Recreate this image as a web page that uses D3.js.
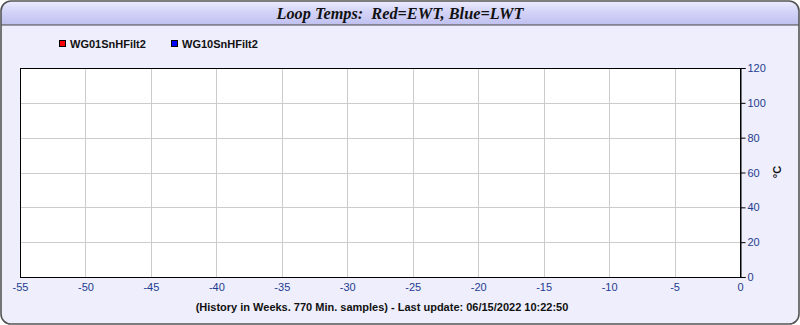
<!DOCTYPE html>
<html><head><meta charset="utf-8">
<script src="https://cdn.jsdelivr.net/npm/d3@7"></script>
<style>html,body{margin:0;padding:0;background:#fff;}svg{display:block;}</style>
</head><body>
<svg id="c" width="800" height="325"></svg>
<script>
const title = "Loop Temps:  Red=EWT, Blue=LWT";
const seriesNames = ["WG01SnHFilt2", "WG10SnHFilt2"];
const seriesColors = ["#ff0000", "#0000ff"];
const xTicks = [-55, -50, -45, -40, -35, -30, -25, -20, -15, -10, -5, 0];
const yTicks = [0, 20, 40, 60, 80, 100, 120];
const xDomain = [-55, 0];
const yDomain = [0, 120];
const yLabel = "°C";
const footer = "(History in Weeks. 770 Min. samples) - Last update: 06/15/2022 10:22:50";

const svg = d3.select("#c");
const defs = svg.append("defs");
const g = defs.append("linearGradient").attr("id","tb").attr("x1",0).attr("y1",0).attr("x2",0).attr("y2",1);
g.append("stop").attr("offset","0%").attr("stop-color","#f0f0ff");
g.append("stop").attr("offset","45%").attr("stop-color","#d4d4f8");
g.append("stop").attr("offset","100%").attr("stop-color","#c0c0f0");
defs.append("clipPath").attr("id","frame").append("rect")
  .attr("x",1).attr("y",1).attr("width",798).attr("height",323).attr("rx",10);

svg.append("rect").attr("x",1).attr("y",1).attr("width",798).attr("height",323).attr("rx",10)
  .attr("fill","#eeeefc");
const fg = svg.append("g").attr("clip-path","url(#frame)");
fg.append("rect").attr("x",0).attr("y",0).attr("width",800).attr("height",25).attr("fill","url(#tb)");
fg.append("line").attr("x1",0).attr("x2",800).attr("y1",25).attr("y2",25).attr("stroke","#444").attr("stroke-width",1.2);
svg.append("rect").attr("x",1).attr("y",1).attr("width",798).attr("height",323).attr("rx",10)
  .attr("fill","none").attr("stroke","#555").attr("stroke-width",1.6);

svg.append("text").attr("x",400).attr("y",19).attr("text-anchor","middle")
  .attr("font-family","'Liberation Serif','DejaVu Serif',serif").attr("font-size",16.3)
  .attr("font-weight","bold").attr("font-style","italic").attr("fill","#111")
  .attr("xml:space","preserve").style("white-space","pre").text(title);

// legend
const leg = svg.append("g");
seriesNames.forEach((n,i)=>{
  const x0 = 59 + i*112;
  leg.append("rect").attr("x",x0+0.5).attr("y",40.5).attr("width",6).attr("height",6)
    .attr("fill",seriesColors[i]).attr("stroke","#000").attr("stroke-width",1);
  leg.append("text").attr("x",x0+11).attr("y",48).attr("font-family","'Liberation Sans',Arial,sans-serif")
    .attr("font-size",11).attr("font-weight","bold").attr("fill","#111").text(n);
});

const L=20, R=740, T=68, B=277;
const x = d3.scaleLinear().domain(xDomain).range([L,R]);
const y = d3.scaleLinear().domain(yDomain).range([B,T]);

svg.append("rect").attr("x",L).attr("y",T).attr("width",R-L).attr("height",B-T).attr("fill","#fff");
const grid = svg.append("g").attr("stroke","#cccccc").attr("stroke-width",1);
xTicks.forEach(t=>{ grid.append("line").attr("x1",Math.round(x(t))+0.5).attr("x2",Math.round(x(t))+0.5).attr("y1",T).attr("y2",B); });
yTicks.forEach(t=>{ grid.append("line").attr("x1",L).attr("x2",R).attr("y1",Math.round(y(t))+0.5).attr("y2",Math.round(y(t))+0.5); });
svg.append("rect").attr("x",L+0.5).attr("y",T+0.5).attr("width",R-L).attr("height",B-T)
  .attr("fill","none").attr("stroke","#000").attr("stroke-width",1);

const tickColor = "#1e3c8f";
const xa = svg.append("g").attr("transform",`translate(0,${B+0.5})`)
  .call(d3.axisBottom(x).tickValues(xTicks).tickSize(0).tickPadding(6).tickFormat(d => String(d)));
xa.select(".domain").remove();
xa.selectAll("text").attr("font-family","'Liberation Sans',Arial,sans-serif").attr("font-size",11).attr("fill",tickColor);

const ya = svg.append("g").attr("transform",`translate(${R+0.5},0)`)
  .call(d3.axisRight(y).tickValues(yTicks).tickSize(5).tickPadding(2).tickFormat(d => String(d)));
ya.select(".domain").attr("stroke","#000");
ya.selectAll(".tick line").attr("stroke","#000");
ya.selectAll("text").attr("font-family","'Liberation Sans',Arial,sans-serif").attr("font-size",11).attr("fill",tickColor);

svg.append("text").attr("transform",`translate(781,172) rotate(-90)`).attr("text-anchor","middle")
  .attr("font-family","'Liberation Sans',Arial,sans-serif").attr("font-size",11).attr("font-weight","bold")
  .attr("fill","#111").text(yLabel);

svg.append("text").attr("x",382).attr("y",311).attr("text-anchor","middle")
  .attr("font-family","'Liberation Sans',Arial,sans-serif").attr("font-size",11).attr("font-weight","bold")
  .attr("fill","#111").text(footer);
</script>
</body></html>
